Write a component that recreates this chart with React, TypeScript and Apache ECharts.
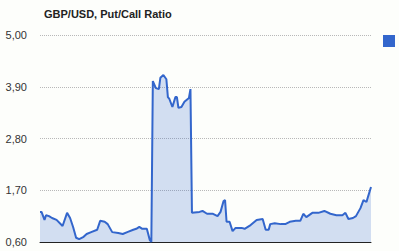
import React, { useEffect, useRef } from "react";
import * as echarts from "echarts";

const titleText = "GBP/USD, Put/Call Ratio";
const seriesName = "Put/Call Ratio";
const yTicks = [0.6, 1.7, 2.8, 3.9, 5.0];
const days = [
  0, 1, 3, 4, 6, 8, 11, 15, 18, 20, 22, 24, 26, 29, 31, 34, 38, 40, 43, 45,
  48, 52, 55, 58, 62, 64, 66, 68, 71, 73, 74, 75, 77, 79, 80, 82, 84, 85, 86, 88,
  90, 91, 92, 94, 96, 99, 100, 101, 106, 108, 111, 115, 118, 120, 122, 123, 124, 126, 128, 130,
  134, 136, 140, 144, 148, 150, 152, 153, 156, 160, 163, 166, 170, 173, 175, 177, 181, 185, 189, 193,
  197, 201, 203, 205, 208, 210, 213, 215, 217, 218, 220,
];
const ratios = [
  1.24, 1.24, 1.07, 1.17, 1.15, 1.11, 1.07, 0.94, 1.22, 1.11, 0.92, 0.69, 0.66, 0.71, 0.77, 0.81, 0.86, 1.05, 1.03, 0.98,
  0.81, 0.79, 0.77, 0.81, 0.86, 0.88, 0.92, 0.88, 0.88, 0.64, 0.6, 4.02, 3.87, 3.85, 4.09, 4.15, 4.06, 3.68, 3.64, 3.47,
  3.68, 3.68, 3.45, 3.47, 3.58, 3.66, 3.85, 1.22, 1.24, 1.26, 1.2, 1.2, 1.15, 1.24, 1.47, 1.49, 1.03, 1.03, 0.83, 0.9,
  0.9, 0.88, 0.96, 1.07, 1.09, 0.86, 0.86, 0.98, 1.0, 0.98, 0.98, 1.03, 1.05, 1.05, 1.2, 1.13, 1.22, 1.22, 1.26, 1.2,
  1.17, 1.17, 1.22, 1.09, 1.11, 1.15, 1.32, 1.49, 1.45, 1.56, 1.77,
];

export default function App() {
  const ref = useRef<HTMLDivElement>(null);
  useEffect(() => {
    if (!ref.current) return;
    const chart = echarts.init(ref.current, null, { renderer: "svg" });
    const fmt = (v: number) => v.toFixed(2).replace(".", ",");
    chart.setOption({
      animation: false,
      backgroundColor: "#fdfefb",
      title: {
        text: titleText,
        left: 39,
        top: 3,
        textStyle: { fontSize: 11, fontWeight: "bold", color: "#222", fontFamily: "Liberation Sans, Arial" },
      },
      legend: {
        data: [seriesName],
        right: 4,
        top: 35,
        icon: "rect",
        itemWidth: 12,
        itemHeight: 12,
        formatter: () => "",
        itemGap: 0,
        padding: 0,
        selectedMode: false,
      },
      grid: { left: 40, right: 28, top: 35, bottom: 9 },
      xAxis: {
        type: "value",
        min: 0,
        max: 220,
        axisLine: { show: true, onZero: false, lineStyle: { color: "#222", width: 1 } },
        axisTick: { show: false },
        axisLabel: { show: false },
        splitLine: { show: false },
      },
      yAxis: {
        type: "value",
        min: 0.6,
        max: 5.0,
        axisLine: { show: false },
        axisTick: { show: false, customValues: yTicks },
        axisLabel: {
          customValues: yTicks,
          formatter: fmt,
          margin: 13,
          fontSize: 11,
          color: "#333",
          fontFamily: "Liberation Sans, Arial",
        },
        splitLine: { show: true, lineStyle: { color: "#b8b8b8", type: [1, 1], width: 1 } },
      },
      series: [
        {
          name: seriesName,
          type: "line",
          data: days.map((d, i) => [d, ratios[i]]),
          showSymbol: false,
          symbol: "none",
          itemStyle: { color: "#3366cc" },
          lineStyle: { color: "#3366cc", width: 2 },
          areaStyle: { color: "rgba(51,102,204,0.3)", origin: "start" },
        },
      ],
    });
    return () => chart.dispose();
  }, []);
  return <div ref={ref} style={{ width: 399, height: 251, position: "absolute", left: 0, top: 0 }} />;
}
